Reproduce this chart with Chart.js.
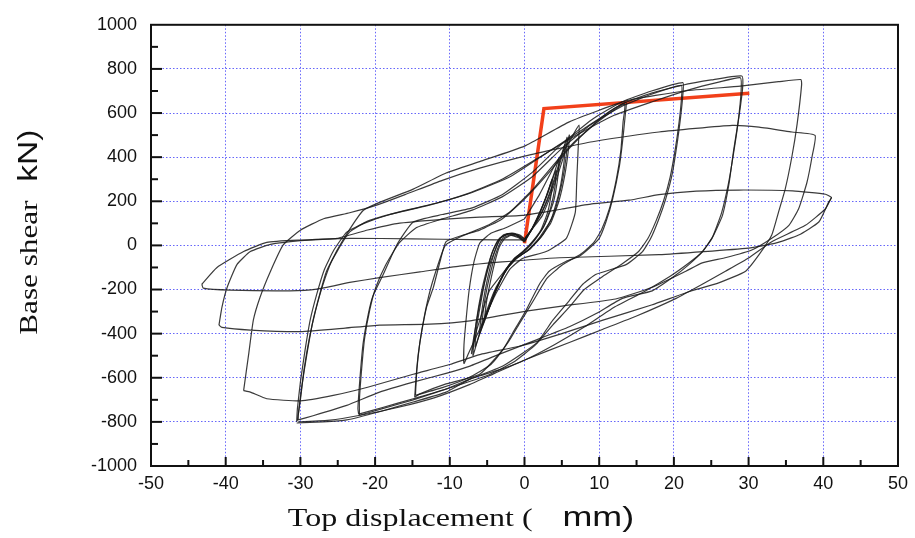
<!DOCTYPE html>
<html><head><meta charset="utf-8">
<script src="https://cdn.jsdelivr.net/npm/chart.js@4.4.1/dist/chart.umd.min.js"></script>
<style>html,body{margin:0;padding:0;background:#fff;overflow:hidden}canvas{display:block}</style>
</head><body>
<canvas id="c" width="915" height="538"></canvas>
<script>
// ---- axis setup ----
const xRange = [-50, 50], xStep = 10, xMinor = 5;
const yRange = [-1000, 1000], yStep = 200, yMinor = 100;
const xTitle = ['Top displacement (', '   mm)'];
const yTitle = ['Base shear', '  kN)'];

// ---- small cycles (x mm, y kN) ----
const smallLoop1 = [[0,15],[0.9,70],[1.9,140],[2.9,220],[3.7,300],[3.6,240],[3.1,150],[2.2,70],[1,15],[-0.3,-30],[-1.4,-60],[-2.5,-110],[-3.6,-190],[-4.6,-270],[-5.3,-330],[-5.1,-260],[-4.6,-170],[-4,-80],[-3.4,-10],[-2.7,30],[-1.8,45],[-0.8,35],[0,15]];
const smallLoop2 = [[0,20],[1,75],[2.1,150],[3.2,250],[4,330],[4.6,390],[4.5,320],[3.9,200],[2.8,100],[1.4,25],[0,-25],[-1.2,-55],[-2.6,-120],[-3.9,-210],[-5,-310],[-6,-400],[-5.8,-320],[-5.3,-210],[-4.6,-100],[-3.8,-10],[-3.1,35],[-2.1,52],[-1,45],[0,20]];
const smallLoop3 = [[0,25],[1.1,80],[2.3,150],[3.6,260],[4.7,380],[5.4,460],[5.3,380],[4.7,250],[3.6,120],[2,35],[0.4,-25],[-1,-55],[-2.4,-110],[-4,-210],[-5.4,-340],[-6.6,-460],[-6.4,-370],[-5.8,-250],[-5.1,-130],[-4.3,-30],[-3.4,30],[-2.3,52],[-1.2,50],[0,25]];
const smallLoop4 = [[0,30],[1.1,77],[2.4,136],[3.8,255],[5.1,388],[6,500],[5.9,440],[5.4,320],[4.6,200],[3.5,100],[2,30],[0.5,-20],[-0.6,-48],[-1.6,-72],[-3,-130],[-4.7,-206],[-5.8,-320],[-6.4,-384],[-7.1,-490],[-6.9,-440],[-6.5,-360],[-6,-265],[-5.3,-160],[-4.7,-87],[-3.9,-20],[-3.3,32],[-2.4,50],[-1.6,54],[-0.6,42],[0,30]];
const smallLoop5 = [[0,120],[2,230],[4,360],[6,470],[7.3,545],[7.2,450],[7,300],[6.8,150],[5.6,32],[2.9,-28],[-0.3,-60],[-2,-110],[-4,-230],[-6,-380],[-7.5,-490],[-8.1,-535],[-8.1,-450],[-7.8,-330],[-7.4,-200],[-6.8,-80],[-6,10],[-4.5,55],[-2.5,80],[0,120]];
const smallLoop6 = [[0,28],[1.2,85],[2.5,160],[3.8,270],[4.9,390],[5.7,490],[5.6,410],[5,280],[4,150],[2.5,50],[0.8,-15],[-0.8,-52],[-2.2,-100],[-3.8,-190],[-5.2,-310],[-6.2,-420],[-6.9,-500],[-6.7,-410],[-6.2,-290],[-5.5,-170],[-4.6,-60],[-3.7,15],[-2.8,48],[-1.6,56],[-0.5,45],[0,28]];
const smallLoop7 = [[0,18],[1,72],[2,145],[3.1,235],[4.2,340],[4.1,270],[3.5,170],[2.5,80],[1.2,20],[-0.1,-28],[-1.3,-58],[-2.6,-115],[-3.8,-200],[-4.8,-290],[-5.7,-370],[-5.5,-290],[-5,-190],[-4.3,-90],[-3.6,-15],[-2.9,32],[-1.9,48],[-0.9,40],[0,18]];

// ---- +-13 mm cycles ----
const cycle13a = [[-14.7,-688],[-14.5,-591],[-14.2,-487],[-13.8,-398],[-13.1,-279],[-12.2,-190],[-11.3,-72],[-10.5,17],[-8.2,47],[-6,69],[-3,120],[0,210],[3,320],[6,440],[9,540],[11.5,610],[13.6,648],[13.5,595],[13.1,462],[12.7,358],[11.8,210],[10.9,106],[10,32],[8.7,-12],[7.3,-50],[5.6,-72],[3.3,-117],[2,-176],[0.2,-295],[-1.6,-398],[-2.9,-473],[-6,-584],[-10.5,-628],[-14,-673],[-14.7,-688]];
const cycle13b = [[-14.6,-680],[-14.4,-560],[-14,-440],[-13.4,-320],[-12.6,-200],[-11.6,-90],[-10.6,0],[-8.5,40],[-5,90],[-2,150],[1,250],[4,370],[7,480],[10,565],[13.4,640],[13.2,560],[12.9,430],[12.3,300],[11.4,170],[10.3,70],[9.2,10],[7.5,-40],[5,-90],[3,-150],[1.2,-250],[-0.6,-350],[-2.2,-440],[-4.5,-540],[-7.5,-600],[-11,-645],[-14.6,-680]];

// ---- +-21 mm cycles ----
const cycle21a = [[-22.2,-765],[-22.3,-740],[-22,-591],[-21.6,-443],[-20.9,-309],[-20.3,-230],[-18.9,-131],[-17.1,2],[-14.9,106],[-11,140],[-7,170],[-3,230],[1,330],[5,460],[9,570],[13,650],[17,700],[21.2,738],[21.2,684],[20.9,581],[20.5,477],[19.8,328],[18.9,210],[18,121],[16.9,32],[15.8,-28],[13.6,-87],[9.6,-131],[7.8,-176],[6,-250],[3.8,-339],[1.6,-443],[-2.9,-547],[-7.3,-606],[-10.5,-651],[-14.9,-695],[-19,-735],[-22.2,-765]];
const cycle21b = [[-22.1,-770],[-22.1,-700],[-21.8,-560],[-21.4,-420],[-20.7,-290],[-19.9,-190],[-18.6,-90],[-16.8,10],[-14.5,80],[-11,120],[-7,160],[-3,220],[1,310],[5,440],[9,550],[13,630],[17,685],[21,725],[21,660],[20.7,560],[20.2,440],[19.5,310],[18.6,200],[17.6,110],[16.5,30],[15.2,-30],[13,-85],[10.5,-140],[8,-200],[6,-280],[3.8,-360],[1.5,-450],[-1.5,-530],[-5,-590],[-9,-635],[-14.9,-700],[-19,-740],[-22.1,-770]];

// ---- +-29 mm cycles ----
const cycle29a = [[-30.3,-791],[-30.3,-769],[-29.8,-636],[-29.1,-487],[-28.3,-339],[-27.4,-220],[-26.5,-117],[-25.1,-28],[-23.4,61],[-21,110],[-17,150],[-12,190],[-7,240],[-2,310],[3,420],[8,530],[13,640],[17,690],[21,725],[25,750],[29.1,768],[29.2,714],[28.7,581],[28,432],[27.4,284],[26.5,136],[25.1,32],[23.8,-28],[22,-87],[19.8,-146],[17.1,-206],[13.1,-240],[9.6,-309],[6,-369],[1.6,-428],[-2.9,-487],[-7.3,-547],[-10.5,-580],[-14.9,-620],[-19.4,-665],[-23.8,-725],[-28.3,-772],[-30.3,-791]];
const cycle29b = [[-30.5,-800],[-30.4,-740],[-30,-620],[-29.4,-480],[-28.7,-340],[-27.8,-220],[-26.8,-110],[-25.5,-20],[-23.8,60],[-21.5,100],[-18,140],[-13,180],[-8,230],[-3,300],[2,400],[7,500],[12,590],[17,650],[22,705],[26,740],[28.9,760],[29,700],[28.6,560],[28,420],[27.3,280],[26.4,150],[25.2,40],[23.8,-30],[22,-80],[19.5,-140],[16,-210],[12,-280],[8,-370],[4,-450],[0.2,-517],[-3,-560],[-7.3,-606],[-10.5,-665],[-14.9,-710],[-19.4,-754],[-23.8,-791],[-27,-800],[-30.5,-805]];

// ---- late large cycles ----
const cycle37 = [[-30.4,-795],[-30,-700],[-29.5,-560],[-28.8,-420],[-28,-300],[-27,-180],[-25.8,-70],[-24.2,30],[-21.6,158],[-19.4,195],[-14.9,255],[-10.5,328],[-6,380],[0,450],[6,560],[13.7,656],[21.4,700],[28.9,722],[34,742],[37,752],[37.1,729],[36.5,551],[35.8,403],[34.9,255],[34,150],[33.1,47],[31.4,-42],[29.6,-117],[26,-170],[22,-210],[17,-270],[10.5,-339],[5,-400],[-0.7,-457],[-6,-495],[-10,-540],[-14.9,-584],[-21,-643],[-25.6,-680],[-30,-705],[-34.5,-695],[-36.7,-665],[-37.6,-658]];
const cycle39 = [[-37.6,-658],[-36.9,-487],[-36.3,-339],[-35.4,-235],[-34,-117],[-32.3,2],[-30,69],[-26.9,121],[-23.4,148],[-20,180],[-16,230],[-11,295],[-6,350],[0,405],[4.7,440],[9.1,470],[18,514],[27.8,544],[31.4,536],[35.8,514],[38.9,499],[38.5,403],[37.8,284],[36.7,166],[35.4,91],[33.1,32],[30.5,-20],[27,-55],[23.8,-79],[21.6,-117],[17.1,-190],[12.2,-243],[5,-275],[0.2,-298],[-7.3,-342],[-12.7,-357],[-19.4,-361],[-24,-375],[-30,-391],[-36.7,-384],[-40.5,-372],[-40.9,-361]];
const cycle41 = [[-40.9,-361],[-40.5,-280],[-39.8,-190],[-38.5,-87],[-36.7,-28],[-34,5],[-30,22],[-25.1,32],[-21,70],[-17.1,99],[-11,118],[-6,128],[-0.3,136],[5,165],[9,188],[14,205],[18,230],[23,246],[28.7,251],[35.9,247],[40.3,232],[41.1,217],[40.7,195],[39.4,106],[36.7,47],[33.6,10],[30,-12],[18,-42],[4.7,-56],[-3,-75],[-8.7,-94],[-14,-120],[-19.4,-146],[-23.4,-168],[-27.8,-198],[-31.4,-206],[-39.4,-203],[-43,-194],[-43.2,-176]];
const finalReload = [[-43.2,-176],[-41.2,-101],[-37.6,-28],[-34.5,14],[-30,24],[-23.4,32],[-15,30],[-7,26],[0,25]];
const lowBranch = [[41.1,217],[40.3,166],[37.6,91],[33.1,17],[30,-57],[26.9,-117],[23.8,-176],[20.3,-240],[15,-320],[10.5,-380],[6,-440],[0.2,-517],[-4,-580],[-7.3,-630],[-12,-690],[-17,-735],[-22,-770],[-26,-792],[-30.3,-800]];

// ---- bilinear idealisation (red) ----
const redX = [0, 2.6, 30.1];
const redY = [10, 620, 690];

const traces = [smallLoop1, smallLoop2, smallLoop3, smallLoop4, smallLoop5, smallLoop6, smallLoop7,
  cycle13a, cycle13b, cycle21a, cycle21b, cycle29a, cycle29b, cycle37, cycle39, cycle41, finalReload, lowBranch];

const datasets = traces.map(t => ({
  data: t.map(([x, y]) => ({x, y})),
  showLine: true, borderColor: 'rgba(25,25,25,0.85)', borderWidth: 1.2,
  pointRadius: 0, tension: 0.15, fill: false
}));
datasets.push({
  data: redX.map((x, i) => ({x, y: redY[i]})),
  showLine: true, borderColor: '#f2401a', borderWidth: 3.5, pointRadius: 0, tension: 0, fill: false
});

const gridColor = (ctx, lo, hi) => (ctx.tick && (ctx.tick.value === lo || ctx.tick.value === hi)) ? 'rgba(0,0,0,0)' : 'rgba(85,85,250,0.9)';

const framePlugin = {
  id: 'framePlugin',
  afterDraw(chart) {
    const {ctx, chartArea: a, scales: {x, y}} = chart;
    ctx.save();
    ctx.strokeStyle = '#111';
    ctx.lineWidth = 2;
    ctx.strokeRect(a.left, a.top, a.right - a.left, a.bottom - a.top);
    ctx.lineWidth = 2;
    for (let v = xRange[0] + xMinor; v < xRange[1]; v += xMinor) {
      const px = x.getPixelForValue(v);
      const len = (v % xStep === 0) ? 9 : 6;
      ctx.beginPath(); ctx.moveTo(px, a.bottom); ctx.lineTo(px, a.bottom - len); ctx.stroke();
    }
    for (let v = yRange[0] + yMinor; v < yRange[1]; v += yMinor) {
      const py = y.getPixelForValue(v);
      const len = (v % yStep === 0) ? 11 : 7;
      ctx.beginPath(); ctx.moveTo(a.left, py); ctx.lineTo(a.left + len, py); ctx.stroke();
    }
    // axis titles
    const drawTitle = (parts, fonts, cx, cy, angle, sx) => {
      ctx.save();
      ctx.translate(cx, cy);
      ctx.rotate(angle);
      ctx.scale(sx, 1);
      const widths = parts.map((p, i) => { ctx.font = fonts[i]; return ctx.measureText(p).width; });
      const total = widths.reduce((s, w) => s + w, 0);
      let pos = -total / 2;
      ctx.fillStyle = '#111';
      ctx.textBaseline = 'alphabetic';
      parts.forEach((p, i) => { ctx.font = fonts[i]; ctx.fillText(p, pos, 0); pos += widths[i]; });
      ctx.restore();
    };
    const w = a.right - a.left;
    drawTitle(xTitle, ['25px "Liberation Serif"', '28px "Liberation Sans"'], a.left + 0.415 * w, a.bottom + 60, 0, 1.28);
    drawTitle(yTitle, ['26px "Liberation Serif"', '28px "Liberation Sans"'], 37, a.top + 0.47 * (a.bottom - a.top), -Math.PI / 2, 1.2);
    ctx.restore();
  }
};

new Chart(document.getElementById('c'), {
  type: 'scatter',
  data: { datasets },
  plugins: [framePlugin],
  options: {
    responsive: false, animation: false, devicePixelRatio: 1,
    layout: { padding: { left: 0, top: 16, right: 15, bottom: 0 } },
    plugins: { legend: { display: false }, tooltip: { enabled: false } },
    scales: {
      x: {
        type: 'linear', min: xRange[0], max: xRange[1],
        ticks: { stepSize: xStep, padding: 7, color: '#111', font: { family: 'Liberation Sans', size: 18 }, callback: v => String(v) },
        grid: { color: c => gridColor(c, xRange[0], xRange[1]), lineWidth: 1, drawTicks: false, tickLength: 0 },
        border: { display: true, color: '#111', width: 2, dash: [1.5, 2] },
        afterFit: s => { s.height = 72; }
      },
      y: {
        type: 'linear', min: yRange[0], max: yRange[1],
        ticks: { stepSize: yStep, padding: 14, color: '#111', font: { family: 'Liberation Sans', size: 18 }, callback: v => String(v) },
        grid: { color: c => gridColor(c, yRange[0], yRange[1]), lineWidth: 1, drawTicks: false, tickLength: 0 },
        border: { display: true, color: '#111', width: 2, dash: [1.5, 2] },
        afterFit: s => { s.width = 151; }
      }
    }
  }
});
</script>
</body></html>
